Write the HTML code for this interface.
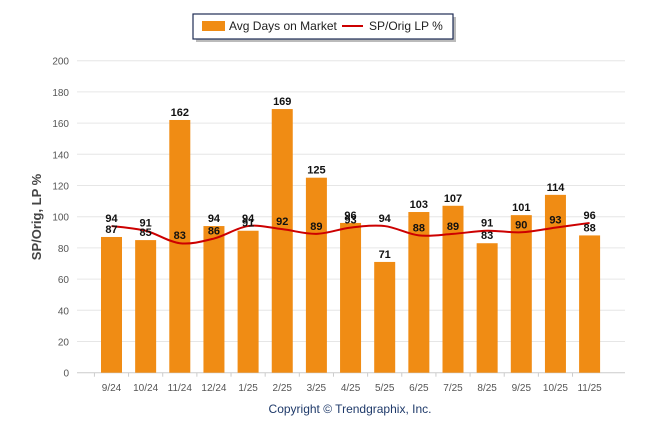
<!DOCTYPE html>
<html><head><meta charset="utf-8"><style>
body{margin:0;background:#fff;width:646px;height:434px;overflow:hidden;font-family:"Liberation Sans",Arial,sans-serif}
</style></head><body>
<svg id="chart" width="646" height="434" xmlns="http://www.w3.org/2000/svg">
<g id="grid"></g>
<g id="bars"></g>
<g id="line"></g>
<g id="labels"></g>
<g>
<rect x="196" y="17" width="260" height="25" fill="#bbb"/>
<rect x="193" y="14" width="260" height="25" fill="#fff" stroke="#1f2d55" stroke-width="1.2"/>
<rect x="202" y="21" width="23" height="10" fill="#f08c14"/>
<text x="229" y="30" font-size="12" fill="#222">Avg Days on Market</text>
<line x1="342" y1="26" x2="363" y2="26" stroke="#cc0000" stroke-width="2"/>
<text x="369" y="30" font-size="12" fill="#222">SP/Orig LP %</text>
</g>
<text transform="translate(41,217) rotate(-90)" text-anchor="middle" font-size="13" font-weight="bold" fill="#444">SP/Orig, LP %</text>
<text x="350" y="413" text-anchor="middle" font-size="12" fill="#1f3a6a">Copyright © Trendgraphix, Inc.</text>
</svg>
<script>
const categories=["9/24","10/24","11/24","12/24","1/25","2/25","3/25","4/25","5/25","6/25","7/25","8/25","9/25","10/25","11/25"];
const daysOnMarket=[87,85,162,94,91,169,125,96,71,103,107,83,101,114,88];
const spOrigLp=[94,91,83,86,94,92,89,93,94,88,89,91,90,93,96];
const yTicks=[0,20,40,60,80,100,120,140,160,180,200];
const NS="http://www.w3.org/2000/svg";
const y0=372.7,pxPer=1.56,x0=111.5,step=34.15,bw=21;
const yS=v=>y0-v*pxPer, xS=i=>x0+i*step;
function mk(t,a,p){const e=document.createElementNS(NS,t);for(const k in a)e.setAttribute(k,a[k]);p.appendChild(e);return e;}
const grid=document.getElementById('grid');
yTicks.forEach(v=>{
 const l=mk('line',{x1:77,x2:625,y1:yS(v),y2:yS(v),stroke:v===0?'#ccc':'#e6e6e6','stroke-width':1},grid);
 
 
 const t=mk('text',{x:69,y:yS(v)+4,'text-anchor':'end','font-size':10,fill:'#555'},grid);t.textContent=v;
 
 
});
categories.forEach((c,i)=>{
 const t=mk('text',{x:xS(i),y:391,'text-anchor':'middle','font-size':10,fill:'#555'},grid);t.textContent=c;
 
 
 const tk=mk('line',{x1:xS(i)-step/2,x2:xS(i)-step/2,y1:y0,y2:y0+4,stroke:'#ccc'},grid);
 
 
});
const bars=document.getElementById('bars'),labels=document.getElementById('labels');
daysOnMarket.forEach((v,i)=>{
 const r=mk('rect',{x:xS(i)-bw/2,y:yS(v),width:bw,height:y0-yS(v),fill:'#f08c14'},bars);
 
 
 const t=mk('text',{x:xS(i),y:yS(v)-4,'text-anchor':'middle','font-size':11,'font-weight':'bold',fill:'#111'},labels);t.textContent=v;
 
 
});
const pts=spOrigLp.map((v,i)=>[xS(i),yS(v)]);
let d='M'+pts[0][0]+','+pts[0][1];
for(let i=0;i<pts.length-1;i++){
 const p0=pts[Math.max(0,i-1)],p1=pts[i],p2=pts[i+1],p3=pts[Math.min(pts.length-1,i+2)];
 const c1=[p1[0]+(p2[0]-p0[0])/6,p1[1]+(p2[1]-p0[1])/6],c2=[p2[0]-(p3[0]-p1[0])/6,p2[1]-(p3[1]-p1[1])/6];
 d+=` C${c1[0]},${c1[1]} ${c2[0]},${c2[1]} ${p2[0]},${p2[1]}`;
}
const path=mk('path',{d:d,fill:'none',stroke:'#cc0000','stroke-width':2},document.getElementById('line'));


spOrigLp.forEach((v,i)=>{
 const t=mk('text',{x:xS(i),y:yS(v)-4,'text-anchor':'middle','font-size':11,'font-weight':'bold',fill:'#111'},labels);t.textContent=v;
 
 
});
</script>
</body></html>
